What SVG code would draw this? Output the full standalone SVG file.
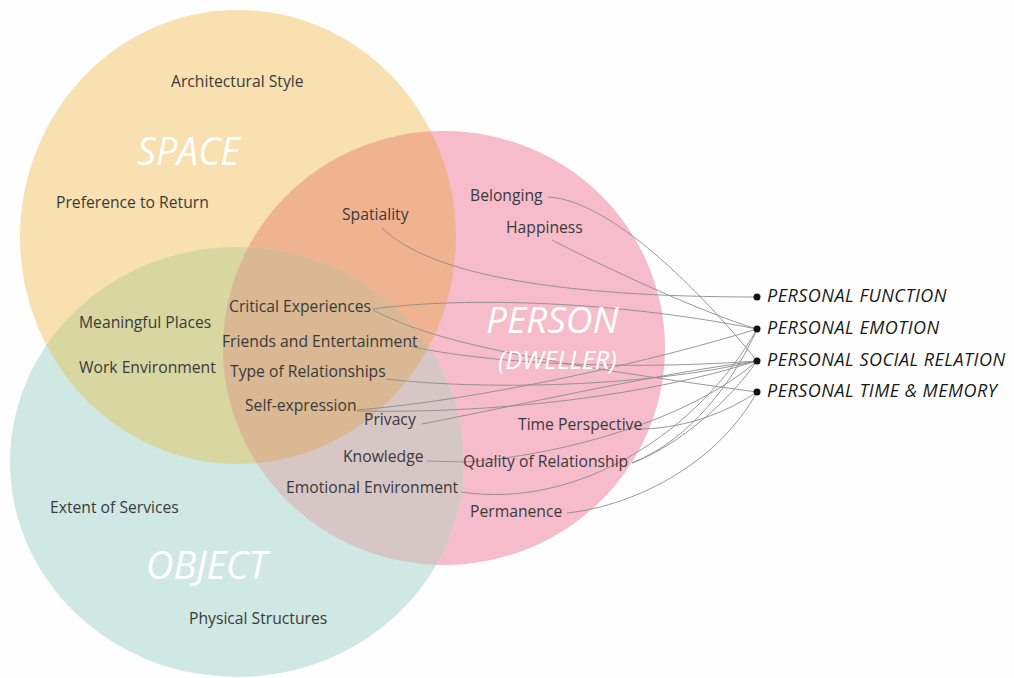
<svg xmlns="http://www.w3.org/2000/svg" width="1014" height="678" viewBox="0 0 1014 678">
<style>
.lbl{font-family:"Open Sans","Noto Sans","Liberation Sans",sans-serif;font-size:15.7px;fill:#3a3a3a}
.big{font-family:"Open Sans","Noto Sans","Liberation Sans",sans-serif;font-style:italic;fill:#ffffff}
.out{font-family:"Open Sans","Noto Sans","Liberation Sans",sans-serif;font-style:italic;font-size:18px;letter-spacing:0.5px;fill:#1a1a1a}
.con{fill:none;stroke:#8c8c8c;stroke-width:0.9}
.dot{fill:#111}
</style>
<defs>
<clipPath id="clipS"><ellipse cx="238" cy="237" rx="218" ry="227"/></clipPath>
<clipPath id="clipP"><ellipse cx="444" cy="348" rx="221" ry="217"/></clipPath>
</defs>
<rect width="1014" height="678" fill="#fefefe"/>
<g id="circles">
<ellipse id="space" cx="238" cy="237" rx="218" ry="227" fill="#f8e0b0"/>
<ellipse id="person" cx="444" cy="348" rx="221" ry="217" fill="#f6bccb"/>
<ellipse id="object" cx="237" cy="462" rx="227" ry="215" fill="#d0e8e4"/>
<ellipse cx="444" cy="348" rx="221" ry="217" fill="#f0b392" clip-path="url(#clipS)"/>
<ellipse cx="237" cy="462" rx="227" ry="215" fill="#d8d7a2" clip-path="url(#clipS)"/>
<ellipse cx="237" cy="462" rx="227" ry="215" fill="#d7c6c6" clip-path="url(#clipP)"/>
<g clip-path="url(#clipP)"><ellipse cx="237" cy="462" rx="227" ry="215" fill="#d9b893" clip-path="url(#clipS)"/></g>
</g>
<g id="connectors">
<path class="con" d="M548,197 C610,200 700,290 757,361"/>
<path class="con" d="M552,240 C600,265 700,312 757,329"/>
<path class="con" d="M382,228 C430,275 560,297 757,297"/>
<path class="con" d="M373,309 C450,298 600,298 757,329"/>
<path class="con" d="M373,310 C430,340 520,360 757,392"/>
<path class="con" d="M409,346 C470,360 600,372 757,361"/>
<path class="con" d="M386,379 C480,390 640,388 757,361"/>
<path class="con" d="M357,410 C480,400 650,362 757,329"/>
<path class="con" d="M357,411 C500,414 650,395 757,361"/>
<path class="con" d="M422,424 C520,405 650,375 757,361"/>
<path class="con" d="M641,429 C690,428 730,410 757,392"/>
<path class="con" d="M427,461 L465,462 C560,456 690,420 757,361"/>
<path class="con" d="M632,463 C680,445 730,400 757,361"/>
<path class="con" d="M632,463 C690,440 735,380 757,329"/>
<path class="con" d="M461,492 C580,510 700,430 757,329"/>
<path class="con" d="M567,513 C640,505 720,460 757,392"/>
</g>
<g id="big-labels">
<text class="big" x="137" y="165" font-size="37.5">SPACE</text>
<text class="big" x="486" y="333" font-size="37">PERSON</text>
<text class="big" x="498" y="369" font-size="25.5">(DWELLER)</text>
<text class="big" x="146" y="579" font-size="38">OBJECT</text>
</g>
<g id="space-nodes">
<text id="architectural-style" class="lbl" x="171" y="87">Architectural Style</text>
<text id="preference-to-return" class="lbl" x="56" y="208">Preference to Return</text>
</g>
<g id="space-person-nodes">
<text id="spatiality" class="lbl" x="342" y="220">Spatiality</text>
</g>
<g id="person-nodes">
<text id="belonging" class="lbl" x="470" y="201">Belonging</text>
<text id="happiness" class="lbl" x="506" y="233">Happiness</text>
<text id="time-perspective" class="lbl" x="518" y="430">Time Perspective</text>
<text id="quality-of-relationship" class="lbl" x="463" y="467">Quality of Relationship</text>
<text id="permanence" class="lbl" x="470" y="517">Permanence</text>
</g>
<g id="triple-nodes">
<text id="critical-experiences" class="lbl" x="229" y="312">Critical Experiences</text>
<text id="friends-and-entertainment" class="lbl" x="222" y="347">Friends and Entertainment</text>
<text id="type-of-relationships" class="lbl" x="230" y="377">Type of Relationships</text>
<text id="self-expression" class="lbl" x="245" y="411">Self-expression</text>
</g>
<g id="space-object-nodes">
<text id="meaningful-places" class="lbl" x="79" y="328">Meaningful Places</text>
<text id="work-environment" class="lbl" x="79" y="373">Work Environment</text>
</g>
<g id="person-object-nodes">
<text id="privacy" class="lbl" x="364" y="425">Privacy</text>
<text id="knowledge" class="lbl" x="343" y="462">Knowledge</text>
<text id="emotional-environment" class="lbl" x="286" y="493">Emotional Environment</text>
</g>
<g id="object-nodes">
<text id="extent-of-services" class="lbl" x="50" y="513">Extent of Services</text>
<text id="physical-structures" class="lbl" x="189" y="624">Physical Structures</text>
</g>
<g id="outcomes">
<g id="personal-function"><circle class="dot" cx="757" cy="297" r="3.5"/><text class="out" x="767" y="302">PERSONAL FUNCTION</text></g>
<g id="personal-emotion"><circle class="dot" cx="757" cy="329" r="3.5"/><text class="out" x="767" y="334">PERSONAL EMOTION</text></g>
<g id="personal-social-relation"><circle class="dot" cx="757" cy="361" r="3.5"/><text class="out" x="767" y="366">PERSONAL SOCIAL RELATION</text></g>
<g id="personal-time-memory"><circle class="dot" cx="757" cy="392" r="3.5"/><text class="out" x="767" y="397">PERSONAL TIME &amp; MEMORY</text></g>
</g>
</svg>
